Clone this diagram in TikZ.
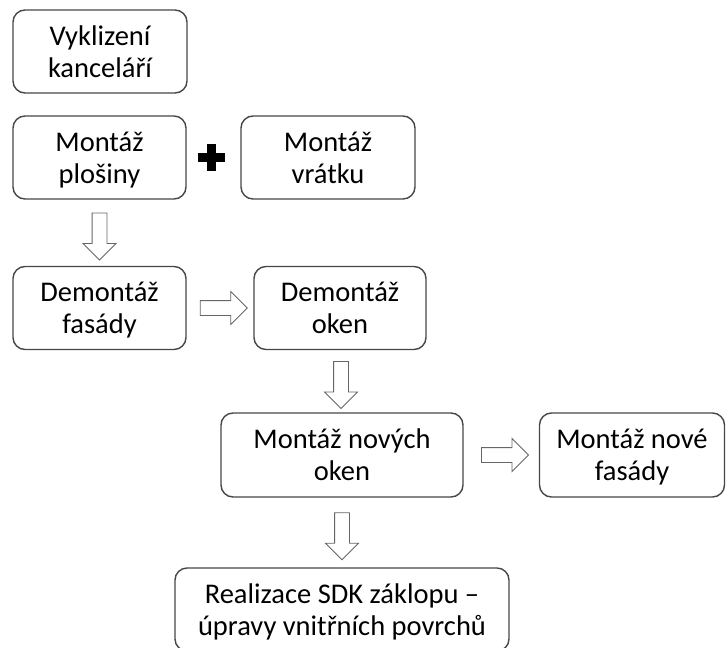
\documentclass[tikz,border=0pt]{standalone}
\usepackage{fontspec}
\setmainfont{Carlito}
\usetikzlibrary{shapes.arrows,calc}

\tikzset{
    task/.style={draw=black!72, line width=1.4pt, rounded corners=12pt,
        align=center, minimum height=83pt, inner sep=0pt, text depth=0pt,
        font=\fontsize{28.5}{32}\selectfont},
    hollow/.style={single arrow, draw=black!60, line width=0.9pt, fill=white,
        minimum height=47pt, inner sep=7pt, single arrow head extend=9pt},
    down/.style={hollow, shape border rotate=270}
}

\begin{document}
\begin{tikzpicture}[x=1pt, y=1pt]
        \useasboundingbox (0,0) rectangle (726,-648);

        \node[task, minimum width=174pt] (vyklizeni) at (100,-51.5) {Vyklizení\\kanceláří};
        \node[task, minimum width=173pt] (plosina) at (99.5,-157.5) {Montáž\\plošiny};
        \node[task, minimum width=174pt] (vratek) at (328,-157.5) {Montáž\\vrátku};
        \node[task, minimum width=173pt] (demfasada) at (99.5,-308) {Demontáž\\fasády};
        \node[task, minimum width=172pt] (demokna) at (340,-308) {Demontáž\\oken};
        \node[task, minimum width=242pt, minimum height=84pt] (novaokna) at (342,-455) {Montáž nových\\oken};
        \node[task, minimum width=185pt, minimum height=84pt] (novafasada) at (632,-455) {Montáž nové\\fasády};
        \node[task, minimum width=334pt] (sdk) at (342,-609.5) {Realizace SDK záklopu –\\úpravy vnitřních povrchů};

        % plus between the two lifts
        \coordinate (plus) at ($(plosina.east)!.46!(vratek.west)$);
        \fill (plus) ++(-13.5,-4.5) rectangle ++(27,9);
        \fill (plus) ++(-4.5,-13.5) rectangle ++(9,27);

        \node[down] (a1) at ($(plosina.south)!.5!(demfasada.north)$) {};
        \node[hollow] (a2) at ($(demfasada.east)!.5!(demokna.west)$) {};
        \node[down] (a3) at ($(demokna.south)!.5!(novaokna.north)$) {};
        \node[hollow] (a4) at ($(novaokna.east)!.5!(novafasada.west)$) {};
        \node[down] (a5) at ($(novaokna.south)!.5!(sdk.north)$) {};

    \end{tikzpicture}
\end{document}
